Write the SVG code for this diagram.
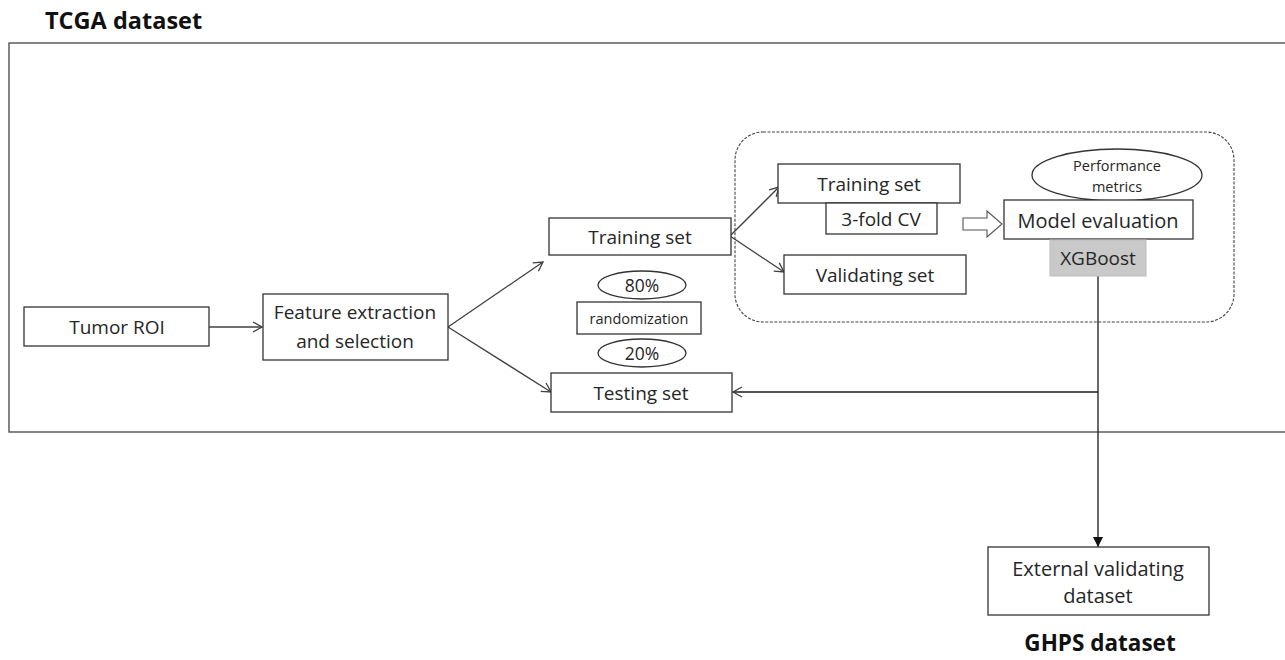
<svg xmlns="http://www.w3.org/2000/svg" width="1285" height="660" viewBox="0 0 1285 660">
<style>
.box{fill:#fff;stroke:#333;stroke-width:1.3}
.gray{fill:#c9c9c9;stroke:#bdbdbd;stroke-width:1}
.t{font-family:"Open Sans","Liberation Sans",sans-serif;font-size:19px;fill:#262626;text-anchor:middle;dominant-baseline:central}
.s{font-size:14.5px}
.l{font-size:20px}
.b{font-family:"Open Sans","Liberation Sans",sans-serif;font-weight:bold;font-size:23.5px;fill:#111}
.ln{fill:none;stroke:#404040;stroke-width:1.3}
</style>
<defs>
<marker id="open" markerWidth="12" markerHeight="12" refX="10" refY="6" orient="auto" markerUnits="userSpaceOnUse">
<path d="M1,1 L10,6 L1,11" fill="none" stroke="#404040" stroke-width="1.3"/>
</marker>
<marker id="solid" markerWidth="12" markerHeight="12" refX="10" refY="6" orient="auto" markerUnits="userSpaceOnUse">
<path d="M0,1 L10,6 L0,11 Z" fill="#111"/>
</marker>
</defs>
<rect width="1285" height="660" fill="#fff"/>
<text class="b" x="45" y="29">TCGA dataset</text>
<rect x="9" y="43" width="1290" height="389" fill="none" stroke="#444" stroke-width="1.3"/>
<rect x="735" y="132" width="499" height="190" rx="28" ry="28" fill="none" stroke="#444" stroke-width="1.1" stroke-dasharray="3,1.5"/>

<g id="connectors">
<line class="ln" x1="209" y1="327" x2="262" y2="327" marker-end="url(#open)"/>
<line class="ln" x1="448" y1="327" x2="543" y2="262" marker-end="url(#open)"/>
<line class="ln" x1="448" y1="327" x2="551" y2="392" marker-end="url(#open)"/>
<line class="ln" x1="730" y1="236" x2="779" y2="187" marker-end="url(#open)"/>
<line class="ln" x1="730" y1="236" x2="784" y2="272" marker-end="url(#open)"/>
<polygon points="963,218 987,218 987,211 1002,224 987,237 987,230 963,230" fill="#fff" stroke="#555" stroke-width="1.1"/>
<line class="ln" x1="1098" y1="276" x2="1098" y2="547" style="stroke:#1a1a1a" marker-end="url(#solid)"/>
<line class="ln" x1="1098" y1="392" x2="733" y2="392" style="stroke:#1a1a1a" marker-end="url(#open)"/>
</g>

<g id="tumor-roi">
<rect class="box" x="24" y="307" width="185" height="39"/>
<text class="t" x="117" y="327">Tumor ROI</text>
</g>
<g id="feature-extraction">
<rect class="box" x="263" y="294" width="185" height="66"/>
<text class="t" x="355" y="312">Feature extraction</text>
<text class="t" x="355" y="341">and selection</text>
</g>
<g id="training-set">
<rect class="box" x="549" y="218" width="182" height="37"/>
<text class="t" x="640" y="237">Training set</text>
</g>
<g id="pct-80">
<ellipse class="box" cx="642" cy="285" rx="44" ry="14"/>
<text class="t" x="642" y="285" style="font-size:17.5px">80%</text>
</g>
<g id="randomization">
<rect class="box" x="577" y="302" width="124" height="32"/>
<text class="t s" x="639" y="318">randomization</text>
</g>
<g id="pct-20">
<ellipse class="box" cx="642" cy="353" rx="44" ry="14"/>
<text class="t" x="642" y="353" style="font-size:17.5px">20%</text>
</g>
<g id="testing-set">
<rect class="box" x="551" y="373" width="181" height="39"/>
<text class="t" x="641" y="393">Testing set</text>
</g>
<g id="inner-training-set">
<rect class="box" x="778" y="164" width="182" height="39"/>
<text class="t" x="869" y="184">Training set</text>
</g>
<g id="cv">
<rect class="box" x="826" y="203" width="111" height="31"/>
<text class="t" x="881" y="219">3-fold CV</text>
</g>
<g id="validating-set">
<rect class="box" x="784" y="255" width="182" height="39"/>
<text class="t" x="875" y="275">Validating set</text>
</g>
<g id="performance-metrics">
<ellipse class="box" cx="1117" cy="175" rx="85" ry="26"/>
<text class="t s" x="1117" y="165">Performance</text>
<text class="t s" x="1117" y="186">metrics</text>
</g>
<g id="model-evaluation">
<rect class="box" x="1004" y="200" width="189" height="39"/>
<text class="t l" x="1098" y="220">Model evaluation</text>
</g>
<g id="xgboost">
<rect class="gray" x="1050" y="240" width="96" height="36"/>
<text class="t" x="1098" y="258">XGBoost</text>
</g>
<g id="external-validating">
<rect class="box" x="988" y="547" width="221" height="68"/>
<text class="t l" x="1098" y="568">External validating</text>
<text class="t l" x="1098" y="595">dataset</text>
</g>
<text class="b" x="1100" y="651" text-anchor="middle" style="font-size:22.5px">GHPS dataset</text>
</svg>
